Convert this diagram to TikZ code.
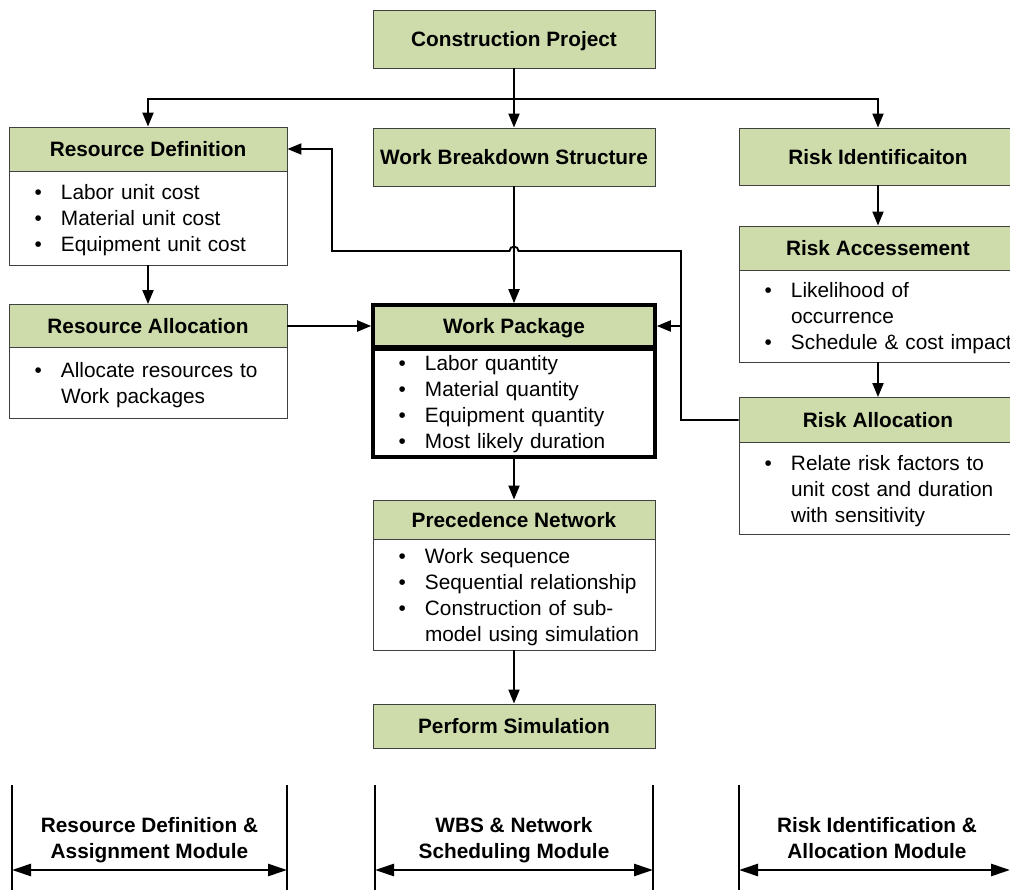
\documentclass[tikz,border=0pt]{standalone}
\usepackage{fontspec}
\setmainfont{Liberation Sans}
\usetikzlibrary{arrows.meta}

\definecolor{boxgreen}{RGB}{205,220,170}
\definecolor{boxline}{RGB}{64,64,64}

% a strut one baseline tall, so every list line has the same height
\newcommand{\linestrut}{\rule[-3pt]{0pt}{23pt}}
% one bullet line, and a continuation line aligned with the bullet text
\newcommand{\bl}[1]{\mbox{\linestrut\makebox[26.5pt][l]{\textbullet}#1}}
\newcommand{\cl}[1]{\mbox{\linestrut\hspace*{26.5pt}#1}}

\tikzset{
  basefont/.style={font=\fontsize{20.8}{26}\selectfont},
  headbox/.style={basefont, font=\fontsize{20.8}{26}\selectfont\bfseries,
    draw=boxline, line width=0.9pt, fill=boxgreen, inner sep=0pt,
    minimum width=#1, text depth=0pt},
  bodybox/.style={basefont, draw=boxline, line width=0.9pt, fill=white,
    inner xsep=25.5pt, inner ysep=0pt, text width=#1-51pt, align=left,
    minimum width=#1},
  wpframe/.style={draw=black, line width=3.6pt},
  conn/.style={draw=black, line width=1.9pt, -{Triangle[length=14pt,width=11pt]}},
  modline/.style={draw=black, line width=2.6pt},
  modarr/.style={draw=black, line width=2.6pt, -{Triangle[length=19pt,width=12pt]}},
  modtext/.style={basefont, font=\fontsize{20.8}{26}\selectfont\bfseries, align=center, inner sep=0pt},
}

\begin{document}
\begin{tikzpicture}[x=1pt, y=-1pt]
\useasboundingbox (0,0) rectangle (1010,890);
\clip (0,0) rectangle (1010,890);

% ---- middle column: work breakdown and scheduling ----
\node[headbox=282pt, minimum height=58pt] (cp) at (514,39) {Construction Project};
\node[headbox=282pt, minimum height=58pt] (wbs) at (514,157) {Work Breakdown Structure};

\node[headbox=282pt, minimum height=42pt, wpframe] (wpH) at (514,326) {Work Package};
\node[bodybox=282pt, minimum height=110pt, wpframe] (wpB) at (514,402)
  {\bl{Labor quantity}\\\bl{Material quantity}\\\bl{Equipment quantity}\\\bl{Most likely duration}};
\draw[wpframe] (wpH.south west) -- (wpH.south east);

\node[headbox=282pt, minimum height=39pt] (pnH) at (514,519.5) {Precedence Network};
\node[bodybox=282pt, minimum height=111pt] (pnB) at (514,594.5)
  {\bl{Work sequence}\\\bl{Sequential relationship}\\\bl{Construction of sub-}\\\cl{model using simulation}};

\node[headbox=282pt, minimum height=44pt] (ps) at (514,726) {Perform Simulation};

% ---- left column: resources ----
\node[headbox=278pt, minimum height=44pt] (rdH) at (148,149) {Resource Definition};
\node[bodybox=278pt, minimum height=94pt] (rdB) at (148,218)
  {\bl{Labor unit cost}\\\bl{Material unit cost}\\\bl{Equipment unit cost}};

\node[headbox=278pt, minimum height=43pt] (alH) at (148,326) {Resource Allocation};
\node[bodybox=278pt, minimum height=70.5pt] (alB) at (148,382.75)
  {\bl{Allocate resources to}\\\cl{Work packages}};

% ---- right column: risks ----
\node[headbox=278pt, minimum height=57pt] (riH) at (878,156.5) {Risk Identificaiton};

\node[headbox=278pt, minimum height=44pt] (raH) at (878,248) {Risk Accessement};
\node[bodybox=278pt, minimum height=92pt] (raB) at (878,316)
  {\bl{Likelihood of}\\\cl{occurrence}\\\bl{Schedule \& cost impact}};

\node[headbox=278pt, minimum height=45pt] (rlH) at (878,420) {Risk Allocation};
\node[bodybox=278pt, minimum height=91.5pt] (rlB) at (878,488.25)
  {\bl{Relate risk factors to}\\\cl{unit cost and duration}\\\cl{with sensitivity}};

% ---- connectors ----
\coordinate (bus) at (514,99);
\coordinate (feedx) at (681,0);
\coordinate (backx) at (332,0);
\coordinate (hopy) at (0,251);

\draw[conn] (cp.south) -- (wbs.north);
\draw[conn] (bus) -| (rdH.north);
\draw[conn] (bus) -| (riH.north);

\draw[conn] (rdB.south) -- (alH.north);
\draw[conn] (alH.east) -- (alH.east -| wpH.west);
\draw[conn] (wbs.south) -- (wpH.north);

\draw[conn] (riH.south) -- (raH.north);
\draw[conn] (raB.south) -- (rlH.north);

% risk feedback to the work package and to the resource definition
\draw[conn] (rlH.west) -| (feedx |- hopy) -- ([xshift=4.5pt]wbs.south |- hopy)
  arc[start angle=0, end angle=-180, radius=4.5] -- (backx |- hopy) |- (rdH.east);
\draw[conn] (feedx |- wpH.east) -- (wpH.east);

\draw[conn] (wpB.south) -- (pnH.north);
\draw[conn] (pnB.south) -- (ps.north);

% ---- module brackets ----
\coordinate (m1l) at (12,785);  \coordinate (m1r) at (287,785);
\coordinate (m2l) at (375,785); \coordinate (m2r) at (653,785);
\coordinate (m3l) at (739,785); \coordinate (m3r) at (1010,785);
\coordinate (ay) at (0,870);

\draw[modline] (m1l) -- ++(0,110);
\draw[modline] (m1r) -- ++(0,110);
\draw[modline] (m2l) -- ++(0,110);
\draw[modline] (m2r) -- ++(0,110);
\draw[modline] (m3l) -- ++(0,110);

\node[modtext] (mt1) at (149.5,840) {Resource Definition \&\\Assignment Module};
\node[modtext] (mt2) at (514,840) {WBS \& Network\\Scheduling Module};
\node[modtext] (mt3) at (877,838) {Risk Identification \&\\Allocation Module};

\draw[modarr] (mt1.south |- ay) -- (m1l |- ay);
\draw[modarr] (mt1.south |- ay) -- (m1r |- ay);
\draw[modarr] (mt2.south |- ay) -- (m2l |- ay);
\draw[modarr] (mt2.south |- ay) -- (m2r |- ay);
\draw[modarr] (mt3.south |- ay) -- (m3l |- ay);
\draw[modarr] (mt3.south |- ay) -- (m3r |- ay);
\end{tikzpicture}
\end{document}
